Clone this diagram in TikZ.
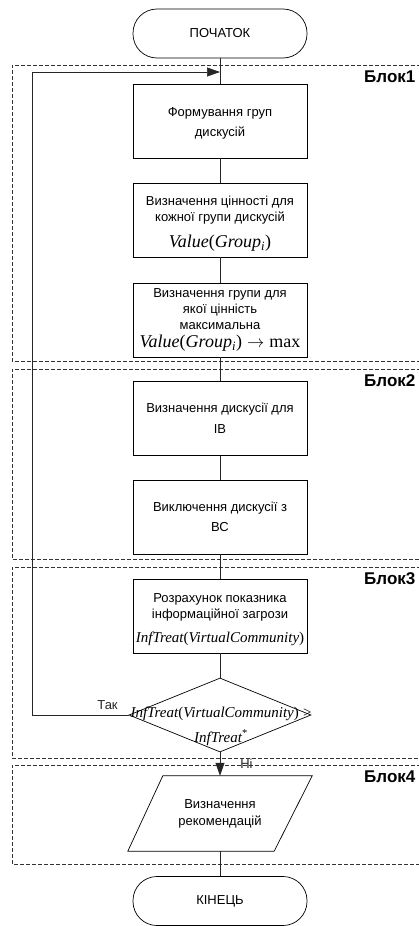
\documentclass[tikz,border=0pt]{standalone}
\usepackage{fontspec}
\setmainfont{Liberation Sans}
\newfontfamily\tnr{Liberation Serif}
\usetikzlibrary{arrows.meta,shapes.geometric}
\newcommand{\mvar}[1]{{\tnr\itshape #1}}
\newcommand{\mrm}[1]{{\tnr #1}}

\begin{document}
\begin{tikzpicture}[x=1pt, y=-1pt,
  every node/.style={font=\fontsize{13}{16}\selectfont},
  base/.style={draw, line width=0.7pt, align=center, inner sep=0pt},
  term/.style={base, rounded corners=24pt, minimum width=174pt, minimum height=49pt},
  proc/.style={base, minimum width=174pt, minimum height=74pt},
  cond/.style={base, diamond, minimum width=182pt, minimum height=74pt},
  io/.style={align=center, inner sep=0pt, minimum width=184pt, minimum height=75pt},
  txt/.style={align=center, inner sep=0pt},
  ln/.style={line width=0.7pt, black!85},
  arr/.style={ln, -{Triangle[length=13pt, width=9pt]}},
  blk/.style={dash pattern=on 4pt off 2pt, line width=0.6pt, black!80},
  blklbl/.style={anchor=west, inner sep=0pt, font=\fontsize{17}{20}\selectfont\bfseries}
]
\useasboundingbox (0,0) rectangle (419,926);

% blocks
\foreach \t/\b/\n in {65/361/1, 369/559/2, 567/758/3, 765/864/4}{
  \draw[blk] (421,\t) -| (12,\b) -- (421,\b);
  \node[blklbl] (blk\n) at (364,\t+12) {Блок\n};
}

\node[term] (start) at (220,33.5) {ПОЧАТОК};
\coordinate (jn) at (220,72);
\node[proc] (grp) at (220,121) {};
\node[txt, font=\fontsize{13}{20}\selectfont] (grptxt) at (220,123) {Формування груп\\дискусій};
\node[proc] (val) at (220,220) {};
\node[txt] (valtxt) at (220,224) {Визначення цінності для\\кожної групи дискусій\\[10pt]%
  {\fontsize{18}{20}\selectfont\mvar{Value}\mrm{(}\mvar{Group}\textsubscript{\mvar{i}}\mrm{)}}};
\node[proc] (maxg) at (220,320) {Визначення групи для\\якої цінність\\максимальна\\[2pt]%
  {\fontsize{18}{20}\selectfont\mvar{Value}\mrm{(}\mvar{Group}\textsubscript{\mvar{i}}\mrm{)} $\rightarrow$ \mrm{max}}};
\node[proc, font=\fontsize{13}{21}\selectfont] (ib) at (220,418.5) {Визначення дискусії для\\ІВ};
\node[proc, font=\fontsize{13}{20}\selectfont] (excl) at (220,517) {Виключення дискусії з\\ВС};
\node[proc] (calc) at (220,616) {};
\node[txt] (calctxt) at (220,620) {Розрахунок показника\\інформаційної загрози\\[8pt]%
  {\fontsize{15}{17}\selectfont\mvar{InfTreat}\mrm{(}\mvar{VirtualCommunity}\mrm{)}}};
\node[cond] (chk) at (220,715) {};
\node[txt, font=\fontsize{15}{25}\selectfont] (chktxt) at (221,726)
  {\mvar{InfTreat}\mrm{(}\mvar{VirtualCommunity}\mrm{)} \mrm{>}\\\mvar{InfTreat}\textsuperscript{\mrm{*}}};
\node[io, font=\fontsize{13}{17}\selectfont] (rec) at (220,813.5) {Визначення\\рекомендацій};
\draw[line width=0.7pt] ([xshift=35pt]rec.north west) -- (rec.north east)
  -- ([xshift=-38pt]rec.south east) -- (rec.south west) -- cycle;
\node[term] (fin) at (220,901) {КІНЕЦЬ};

\foreach \a/\b in {start/grp, grp/val, val/maxg, maxg/ib, ib/excl, excl/calc, calc/chk, rec/fin}
  \draw[ln] (\a) -- (\b);
\draw[arr] (chk) -- node[right, xshift=20pt, inner sep=0pt]{Ні} (rec);
\draw[arr] (chk.west) -- node[pos=0.22, above, yshift=2pt]{Так} ++(-96,0) |- (jn);

\end{tikzpicture}
\end{document}
